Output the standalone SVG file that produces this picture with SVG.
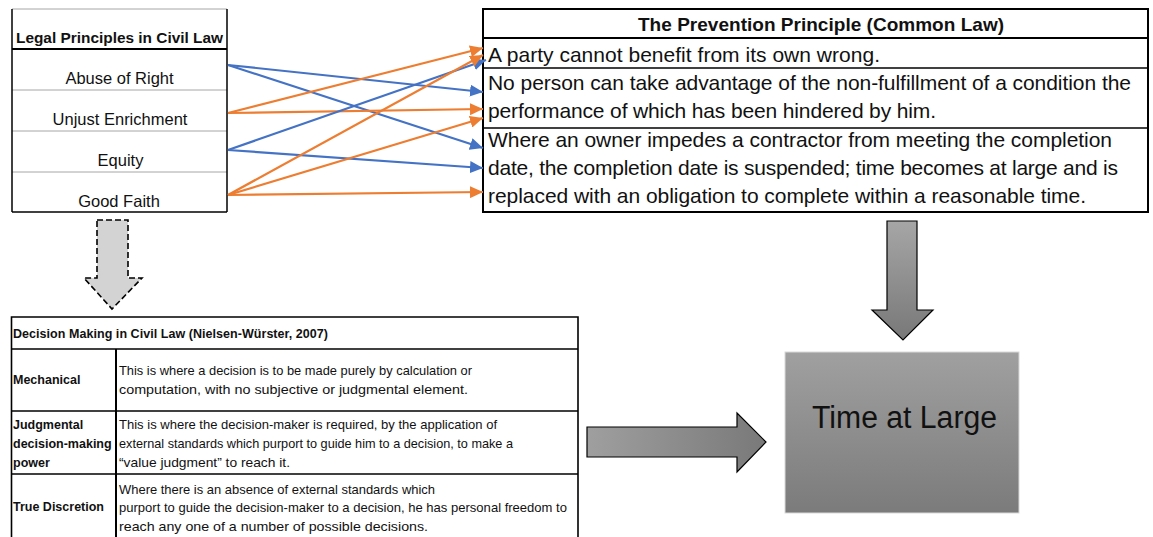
<svg xmlns="http://www.w3.org/2000/svg" width="1153" height="537" viewBox="0 0 1153 537">
<defs>
<style>
.t{font-family:"Liberation Sans",Arial,sans-serif;fill:#111}
.b{font-weight:bold}
.lt{font-size:16.5px}
.rt{font-size:21px}
.dt{font-size:13px}
.blk{stroke:#000;fill:none}
.gry{stroke:#a6a6a6;stroke-width:1;fill:none}
.cb{stroke:#4472C4;stroke-width:2.2;fill:none;marker-end:url(#ab)}
.co{stroke:#ED7D31;stroke-width:2.2;fill:none;marker-end:url(#ao)}
</style>
<marker id="ab" markerUnits="userSpaceOnUse" markerWidth="14" markerHeight="12" refX="13" refY="6" orient="auto">
<path d="M0,0 L13,6 L0,12 z" fill="#4472C4"/>
</marker>
<marker id="ao" markerUnits="userSpaceOnUse" markerWidth="14" markerHeight="12" refX="13" refY="6" orient="auto">
<path d="M0,0 L13,6 L0,12 z" fill="#ED7D31"/>
</marker>
<linearGradient id="gBox" x1="0" y1="0" x2="0" y2="1">
<stop offset="0" stop-color="#a0a0a0"/><stop offset="1" stop-color="#7b7b7b"/>
</linearGradient>
<linearGradient id="gDown" x1="0" y1="0" x2="0" y2="1">
<stop offset="0" stop-color="#a6a6a6"/><stop offset="1" stop-color="#787878"/>
</linearGradient>
<linearGradient id="gRight" x1="0" y1="0" x2="1" y2="0">
<stop offset="0" stop-color="#9f9f9f"/><stop offset="1" stop-color="#797979"/>
</linearGradient>
</defs>
<rect width="1153" height="537" fill="#fff"/>

<g id="civil-law-principles">
<line x1="12" y1="9" x2="227" y2="9" class="gry"/>
<line x1="12" y1="90" x2="227" y2="90" class="gry"/>
<line x1="12" y1="131" x2="227" y2="131" class="gry"/>
<line x1="12" y1="172" x2="227" y2="172" class="gry"/>
<line x1="12" y1="49" x2="227" y2="49" class="blk" stroke-width="2"/>
<line x1="12" y1="212" x2="227" y2="212" class="blk" stroke-width="1.5"/>
<line x1="12" y1="9" x2="12" y2="212" class="blk" stroke-width="1.5"/>
<line x1="227" y1="9" x2="227" y2="212" class="blk" stroke-width="1.5"/>
<text x="16" y="43" class="t b" font-size="15.4px" textLength="207">Legal Principles in Civil Law</text>
<text x="119.5" y="84" class="t lt" text-anchor="middle">Abuse of Right</text>
<text x="120" y="125" class="t lt" text-anchor="middle">Unjust Enrichment</text>
<text x="120.5" y="166" class="t lt" text-anchor="middle">Equity</text>
<text x="119" y="207" class="t lt" text-anchor="middle">Good Faith</text>
</g>

<g id="prevention-principle">
<rect x="483" y="9" width="665" height="203" class="blk" stroke-width="2"/>
<line x1="483" y1="38" x2="1148" y2="38" class="blk" stroke-width="2"/>
<line x1="483" y1="68" x2="1148" y2="68" class="blk" stroke-width="1.5"/>
<line x1="483" y1="128" x2="1148" y2="128" class="blk" stroke-width="1.5"/>
<text x="821" y="31" class="t b" font-size="19px" text-anchor="middle" textLength="366">The Prevention Principle (Common Law)</text>
<text x="488" y="62" class="t rt" textLength="392">A party cannot benefit from its own wrong.</text>
<text x="488" y="90" class="t rt" textLength="643">No person can take advantage of the non-fulfillment of a condition the</text>
<text x="488" y="118" class="t rt" textLength="448">performance of which has been hindered by him.</text>
<text x="488" y="147" class="t rt" textLength="624">Where an owner impedes a contractor from meeting the completion</text>
<text x="488" y="175" class="t rt" textLength="630">date, the completion date is suspended; time becomes at large and is</text>
<text x="488" y="203" class="t rt" textLength="598">replaced with an obligation to complete within a reasonable time.</text>
</g>

<g id="decision-making">
<path d="M11.5,540 V317 H578 V540" class="blk" stroke-width="1.6"/>
<line x1="11.5" y1="349" x2="578" y2="349" class="blk" stroke-width="1.5"/>
<line x1="11.5" y1="411" x2="578" y2="411" class="blk" stroke-width="1.5"/>
<line x1="11.5" y1="474" x2="578" y2="474" class="blk" stroke-width="1.5"/>
<line x1="116" y1="349" x2="116" y2="540" class="blk" stroke-width="2"/>
<text x="13" y="338" class="t b" font-size="12.5px" textLength="315">Decision Making in Civil Law (Nielsen-Würster, 2007)</text>
<text x="13" y="384" class="t b" font-size="12.5px">Mechanical</text>
<text x="119" y="375" class="t dt" textLength="353" lengthAdjust="spacingAndGlyphs">This is where a decision is to be made purely by calculation or</text>
<text x="119" y="394" class="t dt" textLength="349" lengthAdjust="spacingAndGlyphs">computation, with no subjective or judgmental element.</text>
<text x="13" y="429" class="t b" font-size="12.5px">Judgmental</text>
<text x="13" y="448" class="t b" font-size="12.5px">decision-making</text>
<text x="13" y="467" class="t b" font-size="12.5px">power</text>
<text x="119" y="429" class="t dt" textLength="378" lengthAdjust="spacingAndGlyphs">This is where the decision-maker is required, by the application of</text>
<text x="119" y="448" class="t dt" textLength="394" lengthAdjust="spacingAndGlyphs">external standards which purport to guide him to a decision, to make a</text>
<text x="119" y="467" class="t dt" textLength="171" lengthAdjust="spacingAndGlyphs">“value judgment” to reach it.</text>
<text x="13" y="511" class="t b" font-size="12.5px">True Discretion</text>
<text x="119" y="494" class="t dt" textLength="316" lengthAdjust="spacingAndGlyphs">Where there is an absence of external standards which</text>
<text x="119" y="512" class="t dt" textLength="448" lengthAdjust="spacingAndGlyphs">purport to guide the decision-maker to a decision, he has personal freedom to</text>
<text x="119" y="531" class="t dt" textLength="309" lengthAdjust="spacingAndGlyphs">reach any one of a number of possible decisions.</text>
</g>

<g id="time-at-large">
<rect x="785" y="352" width="234" height="161" fill="url(#gBox)" stroke="#d9d9d9" stroke-width="1"/>
<text x="904.5" y="428" class="t" font-size="31px" text-anchor="middle" textLength="185" lengthAdjust="spacingAndGlyphs">Time at Large</text>
</g>

<g id="connectors">
<line x1="228" y1="65" x2="483" y2="92" class="cb"/>
<line x1="228" y1="65" x2="483" y2="148" class="cb"/>
<line x1="228" y1="113" x2="483" y2="48" class="co"/>
<line x1="228" y1="113" x2="483" y2="109" class="co"/>
<line x1="228" y1="150" x2="486" y2="60" class="cb"/>
<line x1="228" y1="150" x2="483" y2="168" class="cb"/>
<line x1="228" y1="195" x2="483" y2="55" class="co"/>
<line x1="228" y1="195" x2="483" y2="118" class="co"/>
<line x1="228" y1="195" x2="483" y2="192" class="co"/>
<path d="M97,220 H128 V278 H142 L112,309 L84,278 H97 Z" fill="#d3d3d3" stroke="#000" stroke-width="1.6" stroke-dasharray="6,3"/>
<path d="M887,221 H917 V310 H933 L903,340 L872,310 H887 Z" fill="url(#gDown)" stroke="#000" stroke-width="1.2"/>
<path d="M587,427 H737 V413 L766,442 L737,472 V457 H587 Z" fill="url(#gRight)" stroke="#000" stroke-width="1.2"/>
</g>
</svg>
